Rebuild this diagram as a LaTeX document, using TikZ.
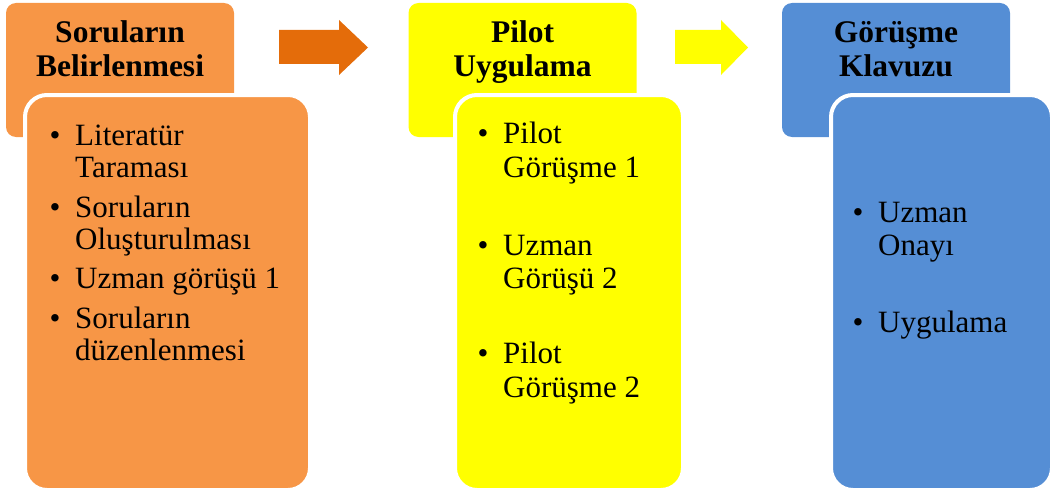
\documentclass[tikz,border=0pt]{standalone}
\usepackage{fontspec}
\setmainfont{Liberation Serif}
\definecolor{stepOrange}{HTML}{F79646}
\definecolor{arrowOrange}{HTML}{E46C0A}
\definecolor{stepYellow}{HTML}{FFFF00}
\definecolor{stepBlue}{HTML}{558ED5}
\tikzset{
  headbox/.style={rectangle, rounded corners=10pt, minimum width=228pt,
    minimum height=134pt, inner sep=0pt},
  bodybox/.style={rectangle, rounded corners=22pt, draw=white,
    line width=4pt, inner sep=0pt, minimum height=395pt},
  headtext/.style={anchor=base, inner sep=0pt,
    font=\fontsize{31.5}{34}\selectfont\bfseries},
  itemtext/.style={anchor=base west, inner sep=0pt,
    font=\fontsize{31}{34}\selectfont},
  bullet/.style={anchor=base, inner sep=0pt,
    font=\fontsize{31}{34}\selectfont},
}
\begin{document}
\begin{tikzpicture}[x=1pt,y=-1pt]
\useasboundingbox (0,0) rectangle (1054,495);

% block arrows between the stages
\fill[arrowOrange] (279,30) -- (339,30) -- (339,20) -- (368,47.5)
  -- (339,75) -- (339,64) -- (279,64) -- cycle;
\fill[stepYellow] (675,30) -- (721,30) -- (721,20) -- (748,47.5)
  -- (721,75) -- (721,64) -- (675,64) -- cycle;

% stage 1
\node[headbox, fill=stepOrange] (h1) at (120,70) {};
\node[bodybox, fill=stepOrange, minimum width=285pt] (b1) at (167.5,292.5) {};
\node[headtext] (h1a) at (120,43) {Soruların};
\node[headtext] (h1b) at (120,77) {Belirlenmesi};
\node[bullet] (d1a) at (55,145) {•};
\node[itemtext] (t1a) at (75,145) {Literatür};
\node[itemtext] (t1b) at (75,177.5) {Taraması};
\node[bullet] (d1b) at (55,217) {•};
\node[itemtext] (t1c) at (75,217) {Soruların};
\node[itemtext] (t1d) at (75,249.5) {Oluşturulması};
\node[bullet] (d1c) at (55,288.5) {•};
\node[itemtext] (t1e) at (75,288.5) {Uzman görüşü 1};
\node[bullet] (d1d) at (55,328) {•};
\node[itemtext] (t1f) at (75,328) {Soruların};
\node[itemtext] (t1g) at (75,360.5) {düzenlenmesi};

% stage 2
\node[headbox, fill=stepYellow] (h2) at (522.5,70) {};
\node[bodybox, fill=stepYellow, minimum width=228pt] (b2) at (569,292.5) {};
\node[headtext] (h2a) at (522.5,43) {Pilot};
\node[headtext] (h2b) at (522.5,77) {Uygulama};
\node[bullet] (d2a) at (483,143) {•};
\node[itemtext] (t2a) at (503,143) {Pilot};
\node[itemtext] (t2b) at (503,177) {Görüşme 1};
\node[bullet] (d2b) at (483,255) {•};
\node[itemtext] (t2c) at (503,255) {Uzman};
\node[itemtext] (t2d) at (503,288.5) {Görüşü 2};
\node[bullet] (d2c) at (483,363) {•};
\node[itemtext] (t2e) at (503,363) {Pilot};
\node[itemtext] (t2f) at (503,397) {Görüşme 2};

% stage 3
\node[headbox, fill=stepBlue] (h3) at (896,70) {};
\node[bodybox, fill=stepBlue, minimum width=221pt] (b3) at (941.5,292.5) {};
\node[headtext] (h3a) at (896,43) {Görüşme};
\node[headtext] (h3b) at (896,77) {Klavuzu};
\node[bullet] (d3a) at (858,222) {•};
\node[itemtext] (t3a) at (878,222) {Uzman};
\node[itemtext] (t3b) at (878,255) {Onayı};
\node[bullet] (d3b) at (858,332) {•};
\node[itemtext] (t3c) at (878,332) {Uygulama};
\end{tikzpicture}
\end{document}
